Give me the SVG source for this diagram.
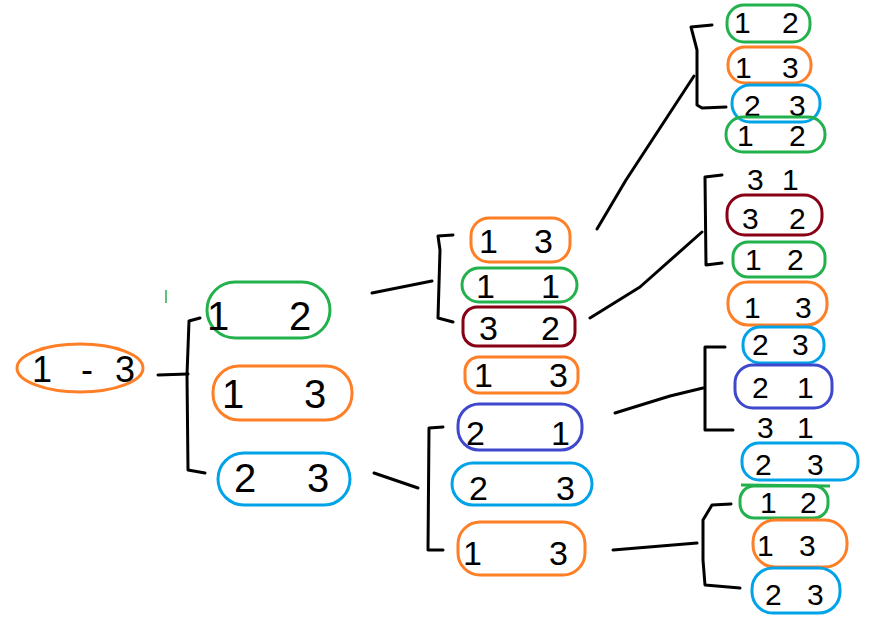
<svg xmlns="http://www.w3.org/2000/svg" width="869" height="623" viewBox="0 0 869 623">
<style>
.o{fill:none;stroke-width:3;stroke-linejoin:round}
.or{stroke:#FF7F27}.gr{stroke:#22B14C}.bl{stroke:#00A2E8}.dr{stroke:#880015}.pu{stroke:#3F48CC}
.c{fill:none;stroke:#000;stroke-width:3;stroke-linecap:round;stroke-linejoin:round}
text{font-family:"Liberation Sans",Arial,sans-serif;fill:#000}
.f0{font-size:36px}.f1{font-size:40px}.f2{font-size:34px}.f3{font-size:30px}
</style>
<rect width="869" height="623" fill="#fff"/>
<g id="connectors">
<path class="c" d="M158,375 L188,374"/>
<path class="c" d="M200,318 L189,321 L187,375 L188,470 L205,473"/>
<path class="c" d="M372,293 L432,281"/>
<path class="c" d="M453,235 L438,236 L440,250 L438,318 L453,322"/>
<path class="c" d="M374,473 L418,488"/>
<path class="c" d="M443,427 L429,428 L428,550 L443,550"/>
<path class="c" d="M597,229 L626,180 L660,128 L694,76"/>
<path class="c" d="M712,25 L691,27 L697,50 L697,105 L702,108 L726,107"/>
<path class="c" d="M590,318 L640,287 L702,232"/>
<path class="c" d="M722,175 L705,177 L706,265 L722,263"/>
<path class="c" d="M615,413 L670,396 L703,388"/>
<path class="c" d="M725,347 L705,347 L705,430 L733,430"/>
<path class="c" d="M613,550 L697,543"/>
<path class="c" d="M731,504 L712,505 L703,520 L703,560 L705,585 L740,588"/>
<path d="M166,290 L166,303" stroke="#22B14C" stroke-width="1.5"/>
</g>
<g id="n-root"><ellipse class="o or" cx="80" cy="368" rx="63" ry="24"/><text class="f0" y="382"><tspan x="32">1</tspan> <tspan x="81">-</tspan> <tspan x="115">3</tspan></text></g>
<g id="n-12"><rect class="o gr" x="207" y="282" width="123" height="56" rx="28"/><text class="f1" y="330"><tspan x="207">1</tspan> <tspan x="289">2</tspan></text></g>
<g id="n-13"><rect class="o or" x="213" y="366" width="139" height="54" rx="26"/><text class="f1" y="408"><tspan x="222">1</tspan> <tspan x="304">3</tspan></text></g>
<g id="n-23"><rect class="o bl" x="218" y="453" width="132" height="52" rx="26"/><text class="f1" y="492"><tspan x="234">2</tspan> <tspan x="307">3</tspan></text></g>

<g id="n2-a"><rect class="o or" x="471" y="218" width="99" height="44" rx="18"/><text class="f2" y="253"><tspan x="479">1</tspan> <tspan x="534">3</tspan></text></g>
<g id="n2-b"><rect class="o gr" x="462" y="268" width="115" height="34" rx="17"/><text class="f2" y="298"><tspan x="476">1</tspan> <tspan x="541">1</tspan></text></g>
<g id="n2-c"><rect class="o dr" x="463" y="307" width="112" height="39" rx="14"/><text class="f2" y="340"><tspan x="479">3</tspan> <tspan x="541">2</tspan></text></g>
<g id="n2-d"><rect class="o or" x="465" y="357" width="113" height="36" rx="14"/><text class="f2" y="387"><tspan x="474">1</tspan> <tspan x="549">3</tspan></text></g>
<g id="n2-e"><rect class="o pu" x="458" y="404" width="124" height="46" rx="21"/><text class="f2" y="445"><tspan x="466">2</tspan> <tspan x="551">1</tspan></text></g>
<g id="n2-f"><rect class="o bl" x="452" y="463" width="140" height="42" rx="21"/><text class="f2" y="500"><tspan x="469">2</tspan> <tspan x="556">3</tspan></text></g>
<g id="n2-g"><rect class="o or" x="458" y="522" width="127" height="53" rx="22"/><text class="f2" y="565"><tspan x="463">1</tspan> <tspan x="549">3</tspan></text></g>

<g id="n3-1"><rect class="o gr" x="727" y="5" width="83" height="37" rx="17"/><text class="f3" y="33"><tspan x="734">1</tspan> <tspan x="782">2</tspan></text></g>
<g id="n3-2"><rect class="o or" x="728" y="47" width="83" height="36" rx="17"/><text class="f3" y="78"><tspan x="735">1</tspan> <tspan x="782">3</tspan></text></g>
<g id="n3-3"><rect class="o bl" x="732" y="85" width="88" height="37" rx="18"/><text class="f3" y="116"><tspan x="744">2</tspan> <tspan x="789">3</tspan></text></g>
<g id="n3-4"><rect class="o gr" x="726" y="117" width="99" height="35" rx="17"/><text class="f3" y="146"><tspan x="737">1</tspan> <tspan x="789">2</tspan></text></g>
<g id="n3-5"><text class="f3" y="190"><tspan x="747">3</tspan> <tspan x="782">1</tspan></text></g>
<g id="n3-6"><rect class="o dr" x="727" y="195" width="95" height="40" rx="18"/><text class="f3" y="229"><tspan x="742">3</tspan> <tspan x="789">2</tspan></text></g>
<g id="n3-7"><rect class="o gr" x="733" y="242" width="92" height="35" rx="15"/><text class="f3" y="270"><tspan x="745">1</tspan> <tspan x="787">2</tspan></text></g>
<g id="n3-8"><rect class="o or" x="728" y="282" width="99" height="43" rx="20"/><text class="f3" y="318"><tspan x="744">1</tspan> <tspan x="795">3</tspan></text></g>
<g id="n3-9"><rect class="o bl" x="743" y="327" width="81" height="36" rx="17"/><text class="f3" y="355"><tspan x="752">2</tspan> <tspan x="792">3</tspan></text></g>
<g id="n3-10"><rect class="o pu" x="735" y="365" width="97" height="43" rx="18"/><text class="f3" y="398"><tspan x="752">2</tspan> <tspan x="797">1</tspan></text></g>
<g id="n3-11"><text class="f3" y="438"><tspan x="757">3</tspan> <tspan x="797">1</tspan></text></g>
<g id="n3-12"><rect class="o bl" x="742" y="443" width="116" height="37" rx="17"/><text class="f3" y="475"><tspan x="755">2</tspan> <tspan x="807">3</tspan></text></g>
<g id="n3-13"><rect class="o gr" x="740" y="486" width="88" height="32" rx="14"/><path class="o gr" d="M741,485 L830,486"/><text class="f3" y="513"><tspan x="760">1</tspan> <tspan x="800">2</tspan></text></g>
<g id="n3-14"><rect class="o or" x="753" y="520" width="94" height="47" rx="22"/><text class="f3" y="556"><tspan x="757">1</tspan> <tspan x="799">3</tspan></text></g>
<g id="n3-15"><rect class="o bl" x="752" y="568" width="88" height="45" rx="21"/><text class="f3" y="605"><tspan x="765">2</tspan> <tspan x="807">3</tspan></text></g>
</svg>
